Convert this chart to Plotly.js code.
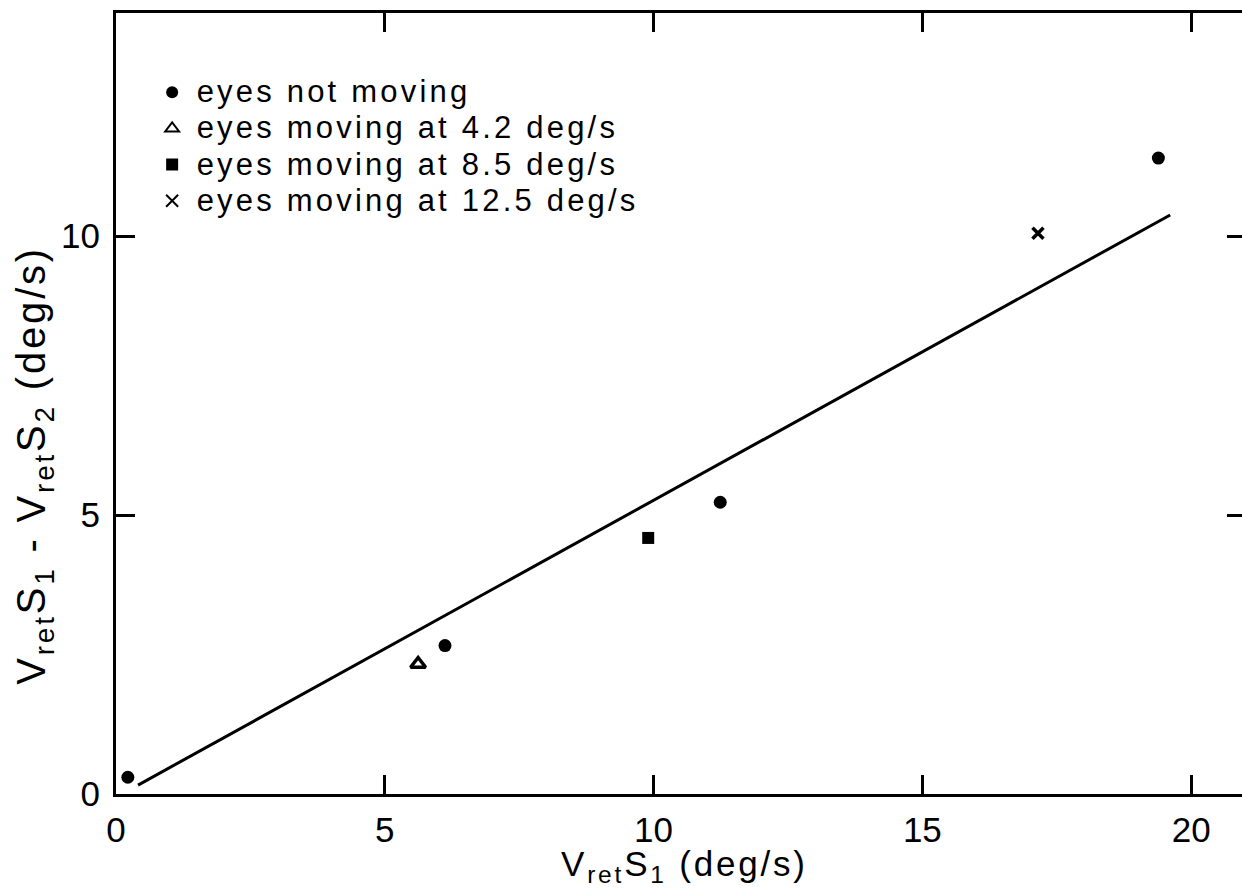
<!DOCTYPE html>
<html>
<head>
<meta charset="utf-8">
<script src="https://cdn.plot.ly/plotly-3.0.1.min.js"></script>
<style>
  html, body { margin: 0; padding: 0; overflow: hidden; background: #fff; }
  #chart { width: 1246px; height: 890px; }
  .legendtext { letter-spacing: 3.2px; font-size: 31px !important; }
  .annotation-text { letter-spacing: 2.8px; }
</style>
</head>
<body>
<div id="chart"></div>
<script>
// Data
const notMovingX = [0.22, 6.12, 11.24, 19.39];
const notMovingY = [0.30, 2.66, 5.23, 11.40];
const moving42X = [5.62];
const moving42Y = [2.33];
const moving85X = [9.90];
const moving85Y = [4.59];
const moving125X = [17.15];
const moving125Y = [10.05];
const fitLineX = [0.41, 19.61];
const fitLineY = [0.16, 10.38];

const seriesNames = [
  'eyes not moving',
  'eyes moving at 4.2 deg/s',
  'eyes moving at 8.5 deg/s',
  'eyes moving at 12.5 deg/s'
];
const xTicks = [0, 5, 10, 15, 20];
const yTicks = [0, 5, 10];
const xTitle = 'V<sub>ret</sub>S<sub>1</sub> (deg/s)';
const yTitle = 'V<sub>ret</sub>S<sub>1</sub> - V<sub>ret</sub>S<sub>2</sub> (deg/s)';

const FONT = '"Liberation Sans", Arial, Helvetica, sans-serif';
const black = '#000';

const traces = [
  {
    x: fitLineX, y: fitLineY, mode: 'lines', showlegend: false,
    line: { color: black, width: 3 }, hoverinfo: 'skip'
  },
  {
    x: notMovingX, y: notMovingY, mode: 'markers', name: seriesNames[0],
    marker: { symbol: 'circle', size: 13, color: black }
  },
  {
    x: moving42X, y: moving42Y, mode: 'markers', name: seriesNames[1],
    marker: { symbol: 'triangle-up-open', size: 13, color: black, line: { width: 3.5, color: black } }
  },
  {
    x: moving85X, y: moving85Y, mode: 'markers', name: seriesNames[2],
    marker: { symbol: 'square', size: 12, color: black }
  },
  {
    x: moving125X, y: moving125Y, mode: 'markers', name: seriesNames[3],
    marker: { symbol: 'x-thin', size: 11, color: black, line: { width: 3.5, color: black } }
  }
];

const axisCommon = {
  showline: true, linewidth: 3, linecolor: black,
  mirror: 'ticks', ticks: 'inside', ticklen: 19, tickwidth: 3, tickcolor: black,
  showgrid: false, zeroline: false,
  tickfont: { family: FONT, size: 35, color: black }
};

const layout = {
  width: 1246, height: 890,
  margin: { l: 116, r: 0, t: 13, b: 96 },
  paper_bgcolor: '#fff', plot_bgcolor: '#fff',
  font: { family: FONT, color: black },
  xaxis: Object.assign({}, axisCommon, {
    range: [0, 21.02], tickvals: xTicks, ticktext: xTicks.map(String),
    ticklabelstandoff: 3
  }),
  yaxis: Object.assign({}, axisCommon, {
    range: [0, 14], tickvals: yTicks, ticktext: yTicks.map(String),
    ticklabelstandoff: 6
  }),
  showlegend: true,
  legend: {
    x: 0.028, y: 0.928, xanchor: 'left', yanchor: 'top',
    bgcolor: 'rgba(0,0,0,0)', borderwidth: 0,
    font: { family: FONT, size: 25.5, color: black },
    tracegroupgap: 0, itemsizing: 'constant', itemwidth: 39
  },
  annotations: [
    {
      xref: 'paper', yref: 'paper', x: 0.503, y: -0.0922, xanchor: 'center', yanchor: 'middle',
      text: xTitle, showarrow: false,
      font: { family: FONT, size: 35, color: black }
    },
    {
      xref: 'paper', yref: 'paper', x: -0.072, y: 0.421, xanchor: 'center', yanchor: 'middle',
      textangle: -90,
      text: yTitle, showarrow: false,
      font: { family: FONT, size: 40, color: black }
    }
  ]
};

Plotly.newPlot('chart', traces, layout, { displayModeBar: false, staticPlot: true });
</script>
</body>
</html>
